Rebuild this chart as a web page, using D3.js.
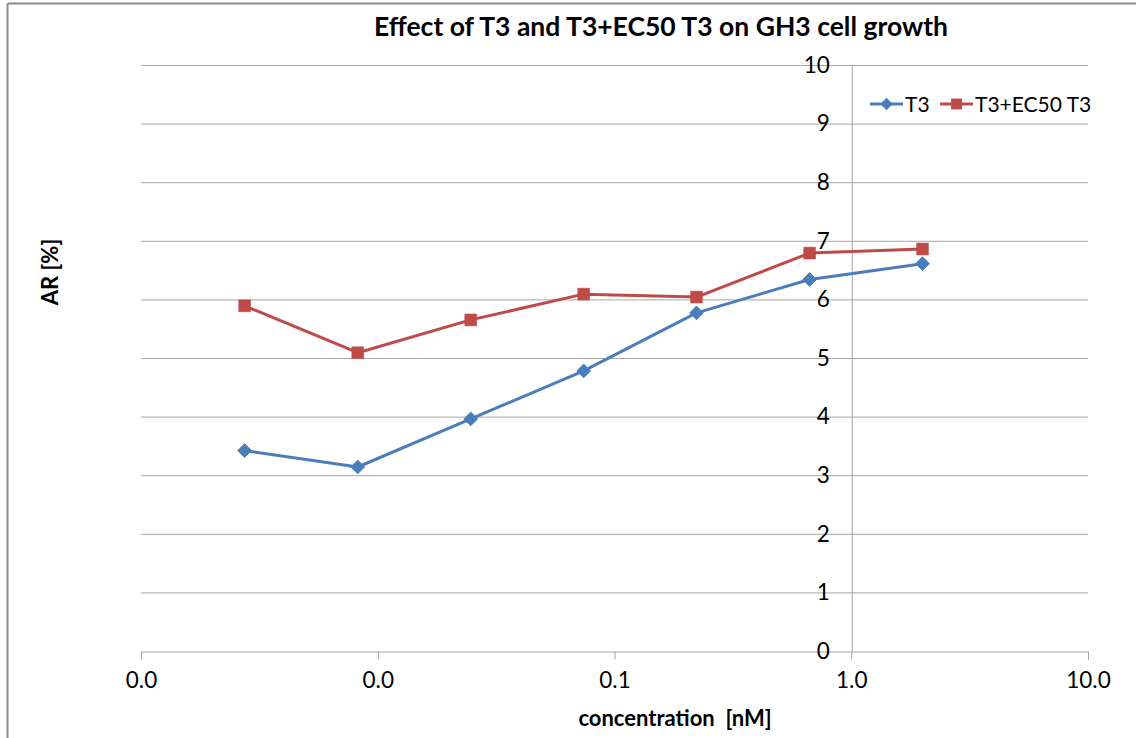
<!DOCTYPE html>
<html>
<head>
<meta charset="utf-8">
<script src="https://cdn.jsdelivr.net/npm/d3@7"></script>
<style>
  body { margin: 0; background: #fff; }
  text { font-family: Lato, "Open Sans", sans-serif; }
</style>
</head>
<body>
<script>
// data
const conc = [0.00274, 0.00823, 0.0247, 0.0741, 0.222, 0.667, 2.0];
const t3 = [3.42, 3.14, 3.96, 4.78, 5.77, 6.34, 6.61];
const t3ec50 = [5.89, 5.09, 5.65, 6.09, 6.04, 6.79, 6.86];
const xTicks = [0.001, 0.01, 0.1, 1, 10];
const yTicks = [0, 1, 2, 3, 4, 5, 6, 7, 8, 9, 10];
const seriesNames = ["T3", "T3+EC50 T3"];

const W = 1136, H = 738;
const svg = d3.select("body").append("svg")
  .attr("width", W).attr("height", H);

// chart frame (only top + left visible)
svg.append("line").attr("x1", 7.5).attr("x2", W).attr("y1", 3.5).attr("y2", 3.5)
  .attr("stroke", "#8c8c8c").attr("stroke-width", 2);
svg.append("line").attr("x1", 7.5).attr("x2", 7.5).attr("y1", 3.5).attr("y2", H)
  .attr("stroke", "#8c8c8c").attr("stroke-width", 2);

const x = d3.scaleLog().domain([0.001, 10]).range([141, 1088]);
const y = d3.scaleLinear().domain([0, 10]).range([651, 65]);

// horizontal gridlines
svg.append("g").selectAll("line").data(yTicks.slice(1)).enter().append("line")
  .attr("x1", 141).attr("x2", 1088)
  .attr("y1", d => y(d) + 0.5).attr("y2", d => y(d) + 0.5)
  .attr("stroke", "#a6a6a6").attr("stroke-width", 1);

// x axis
const xAxis = svg.append("g").attr("transform", "translate(0," + (y(0) + 0.5) + ")")
  .call(d3.axisBottom(x).tickValues(xTicks).tickFormat(d3.format(".1f")).tickSize(8).tickPadding(13));
xAxis.select(".domain").attr("stroke", "#a6a6a6");
xAxis.selectAll(".tick line").attr("stroke", "#a6a6a6");
xAxis.selectAll("text").attr("font-size", 22.5).attr("fill", "#000")
  .style("font-family", "Lato, 'Open Sans', sans-serif");

// y axis crossing at x=1
const yAxis = svg.append("g").attr("transform", "translate(" + (x(1) + 0.5) + ",0)")
  .call(d3.axisLeft(y).tickValues(yTicks).tickSize(0).tickPadding(22));
yAxis.select(".domain").attr("stroke", "#a6a6a6");
yAxis.selectAll("text").attr("font-size", 22.5).attr("fill", "#000")
  .style("font-family", "Lato, 'Open Sans', sans-serif");

// lines
const line = d3.line().x(d => x(d[0])).y(d => y(d[1]));
const colors = ["#4a7ebb", "#be4b48"];
const series = [t3, t3ec50];

series.forEach(function (vals, i) {
  const pts = conc.map((c, j) => [c, vals[j]]);
  svg.append("path").datum(pts)
    .attr("d", line).attr("fill", "none")
    .attr("stroke", colors[i]).attr("stroke-width", 3)
    .attr("stroke-linejoin", "round");
  svg.append("g").selectAll("path").data(pts).enter().append("path")
    .attr("transform", d => "translate(" + x(d[0]) + "," + y(d[1]) + ")")
    .attr("d", i === 0
      ? d3.symbol().type(d3.symbolDiamond2).size(120)
      : d3.symbol().type(d3.symbolSquare2).size(180))
    .attr("fill", colors[i]).attr("stroke", colors[i]).attr("stroke-width", i === 0 ? 1 : 0.5);
});

// legend
const legX = [870, 940];
seriesNames.forEach(function (name, i) {
  const g = svg.append("g").attr("transform", "translate(" + legX[i] + ",104)");
  g.append("line").attr("x1", 0).attr("x2", 33).attr("y1", 0).attr("y2", 0)
    .attr("stroke", colors[i]).attr("stroke-width", 3);
  g.append("path").attr("transform", "translate(16.5,0)")
    .attr("d", i === 0
      ? d3.symbol().type(d3.symbolDiamond2).size(100)
      : d3.symbol().type(d3.symbolSquare2).size(150))
    .attr("fill", colors[i]);
  g.append("text").attr("x", 35).attr("y", 8).attr("font-size", 21).text(name);
});

// title and axis titles
svg.append("text").attr("x", 661).attr("y", 36).attr("text-anchor", "middle")
  .attr("font-size", 26.5).attr("font-weight", "bold").text("Effect of T3 and T3+EC50 T3 on GH3 cell growth");
svg.append("text").attr("x", 675).attr("y", 726).attr("text-anchor", "middle")
  .attr("font-size", 22).attr("font-weight", "bold")
  .style("white-space", "pre").text("concentration  [nM]");
svg.append("text").attr("transform", "translate(58,272) rotate(-90)").attr("text-anchor", "middle")
  .attr("font-size", 22).attr("font-weight", "bold").text("AR [%]");
</script>
</body>
</html>
